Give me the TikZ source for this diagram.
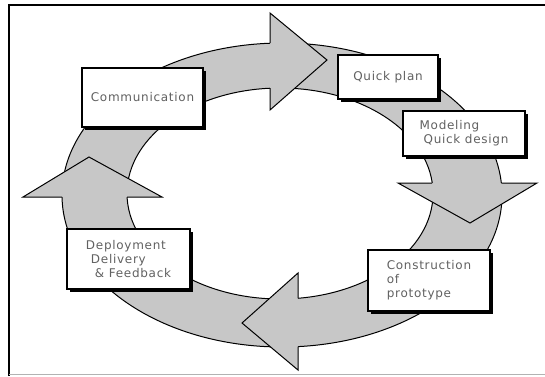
\documentclass[tikz,border=0pt]{standalone}
\usepackage{fontspec}
\newfontfamily\boxfont[LetterSpace=6]{DejaVu Sans}
\usetikzlibrary{shadows}

\definecolor{ringgray}{gray}{0.78}
\definecolor{textgray}{gray}{0.38}

\begin{document}
\begin{tikzpicture}[x=1pt, y=-1pt,
  head/.style={fill=ringgray, line width=1pt, line join=miter},
  stage/.style={draw, line width=1.2pt, fill=white, text=textgray,
    font=\boxfont\fontsize{12}{14}\selectfont, align=left, inner sep=0pt,
    drop shadow={shadow xshift=3pt, shadow yshift=-3pt, fill=black, opacity=1}}]

  \useasboundingbox (0,0) rectangle (545,376) ;

  % frame of the picture
  \draw [line width=2pt] (9,376) -- (9,5) -- (545,5) ;
  \draw [gray!60, line width=1pt] (9,374) -- (545,374) ;

  % ring
  \fill [ringgray, even odd rule] (282,195) ellipse [x radius=220pt, y radius=152pt]
    (280,193.5) ellipse [x radius=153pt, y radius=105.5pt] ;
  \draw [line width=1pt] (282,195) ellipse [x radius=220pt, y radius=152pt] ;
  \draw [line width=1pt] (280,193.5) ellipse [x radius=153pt, y radius=105.5pt] ;

  % arrow heads on the ring
  \filldraw [head] (270,43.2) -- (270,13) -- (327,60) -- (270,110) -- (270,88.2) ;
  \filldraw [head] (501.3,183) -- (537,183) -- (470,223) -- (398,183) -- (432.2,183) ;
  \filldraw [head] (298,346.6) -- (298,370) -- (242,323) -- (298,273) -- (298,298.3) ;
  \filldraw [head] (62,197) -- (23,197) -- (89,157) -- (162,197) -- (127.1,197) ;

  % stages
  \node [stage, minimum width=121pt, minimum height=59pt] (comm) at (142.5,97.5)
    {Communication} ;
  \node [stage, minimum width=100pt, minimum height=44pt] (qplan) at (388,77)
    {Quick plan} ;
  \node [stage, minimum width=122pt, minimum height=45pt] (model) at (464,133.5)
    {Modeling\\\hspace*{4pt}Quick design} ;
  \node [stage, minimum width=123pt, minimum height=60pt] (deploy) at (128.5,259)
    {Deployment\\\hspace*{5pt}Delivery\\\hspace*{9pt}\& Feedback} ;
  \node [stage, minimum width=122pt, minimum height=61pt] (constr) at (429,280.5)
    {Construction\\of\\prototype} ;

\end{tikzpicture}
\end{document}
